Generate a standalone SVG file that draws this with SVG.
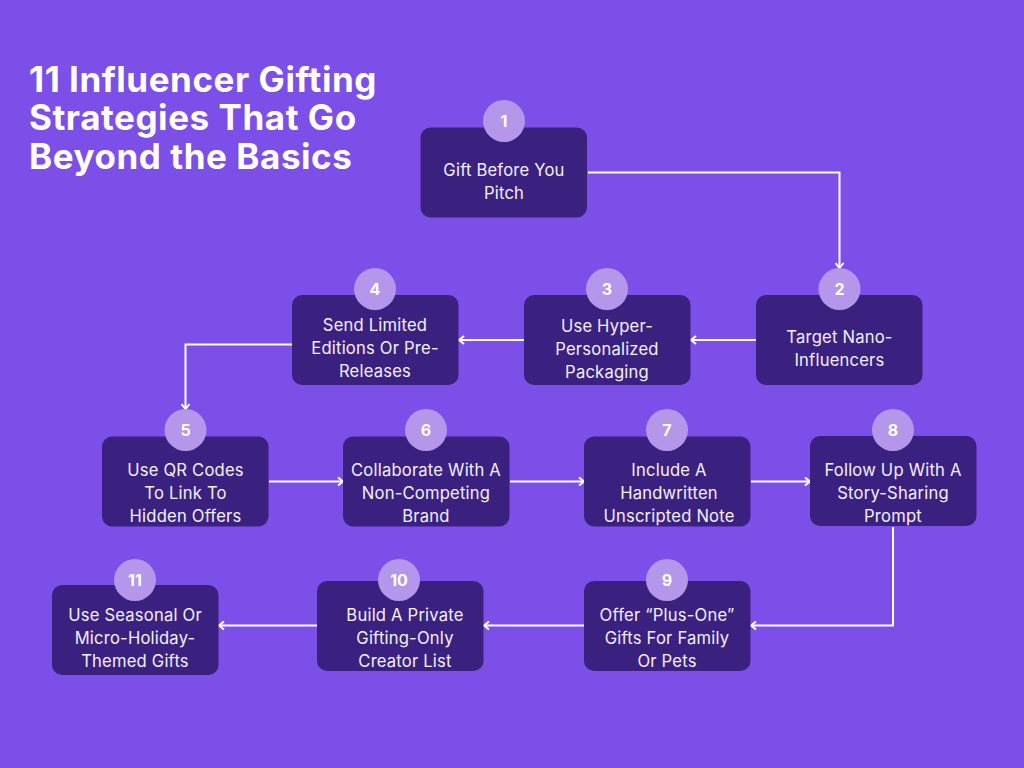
<svg xmlns="http://www.w3.org/2000/svg" width="1024" height="768" viewBox="0 0 1024 768">
<style>
.box{fill:#3b217f}
.badge{fill:#b497ea}
text{font-family:Inter,"Liberation Sans",sans-serif;fill:#fff}
.t{font-size:16.6px;text-anchor:middle;letter-spacing:.2px;fill:#f4f0fc}
.n{font-size:16px;font-weight:700;text-anchor:middle}
.h{font-size:35px;font-weight:700;letter-spacing:.55px}
.c{fill:none;stroke:#fff;stroke-width:2}
</style>
<defs><marker id="a" viewBox="0 0 10 10" refX="9" refY="5" markerWidth="10" markerHeight="10" markerUnits="userSpaceOnUse" orient="auto"><path d="M4 1L9 5L4 9" fill="none" stroke="#fff" stroke-width="2"/></marker></defs>
<rect width="1024" height="768" fill="#7c4fe8"/>
<g id="title"><text class="h" x="29" y="91.500">11 Influencer Gifting</text><text class="h" x="29" y="130">Strategies That Go</text><text class="h" x="29" y="168.500">Beyond the Basics</text></g>
<g id="connectors">
<path class="c" marker-end="url(#a)" d="M588 172.500H839.500V268"/>
<path class="c" marker-end="url(#a)" d="M756 340H691"/>
<path class="c" marker-end="url(#a)" d="M524 340H459"/>
<path class="c" marker-end="url(#a)" d="M292 344.500H185.500V409"/>
<path class="c" marker-end="url(#a)" d="M269 481.500H343"/>
<path class="c" marker-end="url(#a)" d="M510 481.500H584"/>
<path class="c" marker-end="url(#a)" d="M751 481.500H810"/>
<path class="c" marker-end="url(#a)" d="M893 527V625.500H751"/>
<path class="c" marker-end="url(#a)" d="M584 625.500H484"/>
<path class="c" marker-end="url(#a)" d="M317 625.500H219"/>
</g>
<g id="node1"><rect class="box" x="420.500" y="127.500" width="166.500" height="90" rx="10"/><circle class="badge" cx="504" cy="121" r="21"/><text class="n" x="504" y="127">1</text><text class="t" x="504" y="176">Gift Before You</text><text class="t" x="504" y="199">Pitch</text></g>
<g id="node2"><rect class="box" x="756" y="295" width="166.500" height="90" rx="10"/><circle class="badge" cx="839.500" cy="289" r="21"/><text class="n" x="839.500" y="295">2</text><text class="t" x="839.500" y="343">Target Nano-</text><text class="t" x="839.500" y="366">Influencers</text></g>
<g id="node3"><rect class="box" x="524" y="295" width="166.500" height="90" rx="10"/><circle class="badge" cx="607" cy="289" r="21"/><text class="n" x="607" y="295">3</text><text class="t" x="607" y="332">Use Hyper-</text><text class="t" x="607" y="355">Personalized</text><text class="t" x="607" y="378">Packaging</text></g>
<g id="node4"><rect class="box" x="292" y="295" width="166.500" height="90" rx="10"/><circle class="badge" cx="375" cy="289" r="21"/><text class="n" x="375" y="295">4</text><text class="t" x="375" y="331">Send Limited</text><text class="t" x="375" y="354">Editions Or Pre-</text><text class="t" x="375" y="377">Releases</text></g>
<g id="node5"><rect class="box" x="102" y="436.500" width="166.500" height="90" rx="10"/><circle class="badge" cx="185.500" cy="430" r="21"/><text class="n" x="185.500" y="436">5</text><text class="t" x="185.500" y="476">Use QR Codes</text><text class="t" x="185.500" y="499">To Link To</text><text class="t" x="185.500" y="522">Hidden Offers</text></g>
<g id="node6"><rect class="box" x="343" y="436.500" width="166.500" height="90" rx="10"/><circle class="badge" cx="426" cy="430" r="21"/><text class="n" x="426" y="436">6</text><text class="t" x="426" y="476">Collaborate With A</text><text class="t" x="426" y="499">Non-Competing</text><text class="t" x="426" y="522">Brand</text></g>
<g id="node7"><rect class="box" x="584" y="436.500" width="166.500" height="90" rx="10"/><circle class="badge" cx="667" cy="430" r="21"/><text class="n" x="667" y="436">7</text><text class="t" x="669" y="476">Include A</text><text class="t" x="669" y="499">Handwritten</text><text class="t" x="669" y="522">Unscripted Note</text></g>
<g id="node8"><rect class="box" x="810" y="436" width="166.500" height="90" rx="10"/><circle class="badge" cx="893" cy="430" r="21"/><text class="n" x="893" y="436">8</text><text class="t" x="893" y="476">Follow Up With A</text><text class="t" x="893" y="499">Story-Sharing</text><text class="t" x="893" y="522">Prompt</text></g>
<g id="node9"><rect class="box" x="584" y="581" width="166.500" height="90" rx="10"/><circle class="badge" cx="667" cy="580" r="21"/><text class="n" x="667" y="586">9</text><text class="t" x="667" y="621">Offer “Plus-One”</text><text class="t" x="667" y="644">Gifts For Family</text><text class="t" x="667" y="667">Or Pets</text></g>
<g id="node10"><rect class="box" x="317" y="581" width="166.500" height="90" rx="10"/><circle class="badge" cx="399" cy="580" r="21"/><text class="n" x="399" y="586">10</text><text class="t" x="405" y="621">Build A Private</text><text class="t" x="405" y="644">Gifting-Only</text><text class="t" x="405" y="667">Creator List</text></g>
<g id="node11"><rect class="box" x="52" y="585" width="166.500" height="90" rx="10"/><circle class="badge" cx="135" cy="580" r="21"/><text class="n" x="135" y="586">11</text><text class="t" x="135" y="621">Use Seasonal Or</text><text class="t" x="135" y="644">Micro-Holiday-</text><text class="t" x="135" y="667">Themed Gifts</text></g>
</svg>
